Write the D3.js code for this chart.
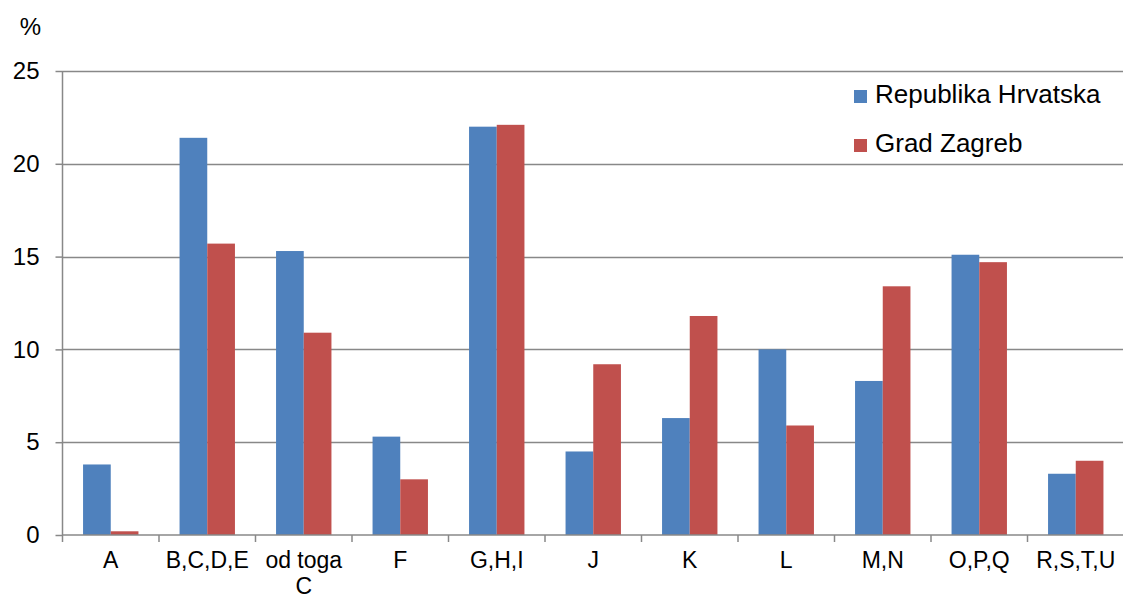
<!DOCTYPE html>
<html>
<head>
<meta charset="utf-8">
<script src="https://cdn.jsdelivr.net/npm/d3@7"></script>
<style>
  html, body { margin: 0; padding: 0; background: #fff; }
  svg { display: block; font-family: "Liberation Sans", Arial, sans-serif; }
</style>
</head>
<body>
<svg id="chart" width="1123" height="599"></svg>
<script>
const categories = ["A", "B,C,D,E", "od toga C", "F", "G,H,I", "J", "K", "L", "M,N", "O,P,Q", "R,S,T,U"];
const categoryLines = [["A"], ["B,C,D,E"], ["od toga", "C"], ["F"], ["G,H,I"], ["J"], ["K"], ["L"], ["M,N"], ["O,P,Q"], ["R,S,T,U"]];
const seriesNames = ["Republika Hrvatska", "Grad Zagreb"];
const hrvatska = [3.8, 21.4, 15.3, 5.3, 22.0, 4.5, 6.3, 10.0, 8.3, 15.1, 3.3];
const zagreb = [0.2, 15.7, 10.9, 3.0, 22.1, 9.2, 11.8, 5.9, 13.4, 14.7, 4.0];
const yTicks = [0, 5, 10, 15, 20, 25];
const colors = ["#4F81BD", "#C0504D"];

const svg = d3.select("#chart");
const mLeft = 62.5, mRight = 1124, mTop = 71, mBottom = 535;

const x = d3.scaleBand().domain(categories).range([mLeft, mRight]).paddingInner(0.426).paddingOuter(0.213);
const x1 = d3.scaleBand().domain(seriesNames).range([0, x.bandwidth()]);
const y = d3.scaleLinear().domain([0, 25]).range([mBottom, mTop]);

const gridColor = "#888888";

// gridlines
svg.append("g").selectAll("line").data(yTicks.filter(d => d > 0)).join("line")
  .attr("x1", mLeft).attr("x2", 1123)
  .attr("y1", d => Math.round(y(d)) + 0.5).attr("y2", d => Math.round(y(d)) + 0.5)
  .attr("stroke", gridColor).attr("stroke-width", 1.5);

// bars
const data = categories.map((c, i) => ({ c, vals: [hrvatska[i], zagreb[i]] }));
const groups = svg.append("g").selectAll("g").data(data).join("g")
  .attr("transform", d => `translate(${x(d.c)},0)`);
groups.selectAll("rect").data(d => d.vals.map((v, j) => ({ v, s: seriesNames[j], j }))).join("rect")
  .attr("x", d => x1(d.s))
  .attr("width", x1.bandwidth())
  .attr("y", d => y(d.v))
  .attr("height", d => y(0) - y(d.v))
  .attr("fill", d => colors[d.j]);

// y axis
const yAxis = d3.axisLeft(y).tickValues(yTicks).tickSize(7).tickPadding(16);
const gy = svg.append("g").attr("transform", `translate(${mLeft},0)`).call(yAxis);
gy.select(".domain").attr("stroke", gridColor).attr("stroke-width", 1.5).attr("d", `M0,${mTop}V${mBottom}`);
gy.selectAll(".tick line").attr("stroke", gridColor).attr("stroke-width", 1.5);
gy.selectAll(".tick text").attr("font-size", 24).attr("fill", "#000").attr("font-family", "Liberation Sans, Arial, sans-serif");

// x axis
svg.append("line").attr("x1", mLeft).attr("x2", 1123).attr("y1", mBottom).attr("y2", mBottom)
  .attr("stroke", gridColor).attr("stroke-width", 1.5);
const step = x.step();
const boundaries = d3.range(categories.length + 1).map(i => mLeft + i * step);
svg.append("g").selectAll("line").data(boundaries).join("line")
  .attr("x1", d => d).attr("x2", d => d).attr("y1", mBottom).attr("y2", mBottom + 7)
  .attr("stroke", gridColor).attr("stroke-width", 1.5);

const xl = svg.append("g").selectAll("text").data(categories).join("text")
  .attr("x", d => x(d) + x.bandwidth() / 2)
  .attr("y", 568)
  .attr("text-anchor", "middle")
  .attr("font-size", 23)
  .attr("fill", "#000");
xl.each(function(d, i) {
  const t = d3.select(this);
  categoryLines[i].forEach((line, k) => {
    t.append("tspan").attr("x", x(d) + x.bandwidth() / 2).attr("dy", k === 0 ? 0 : 25.5).text(line);
  });
});

// % label
svg.append("text").attr("x", 41).attr("y", 35).attr("text-anchor", "end").attr("font-size", 24).attr("fill", "#000").text("%");

// legend
const legend = svg.append("g");
seriesNames.forEach((name, i) => {
  const by = 103 + i * 49;
  legend.append("rect").attr("x", 854).attr("y", by - 13).attr("width", 13).attr("height", 13).attr("fill", colors[i]);
  legend.append("text").attr("x", 875).attr("y", by).attr("font-size", 26).attr("fill", "#000").text(name);
});
</script>
</body>
</html>
